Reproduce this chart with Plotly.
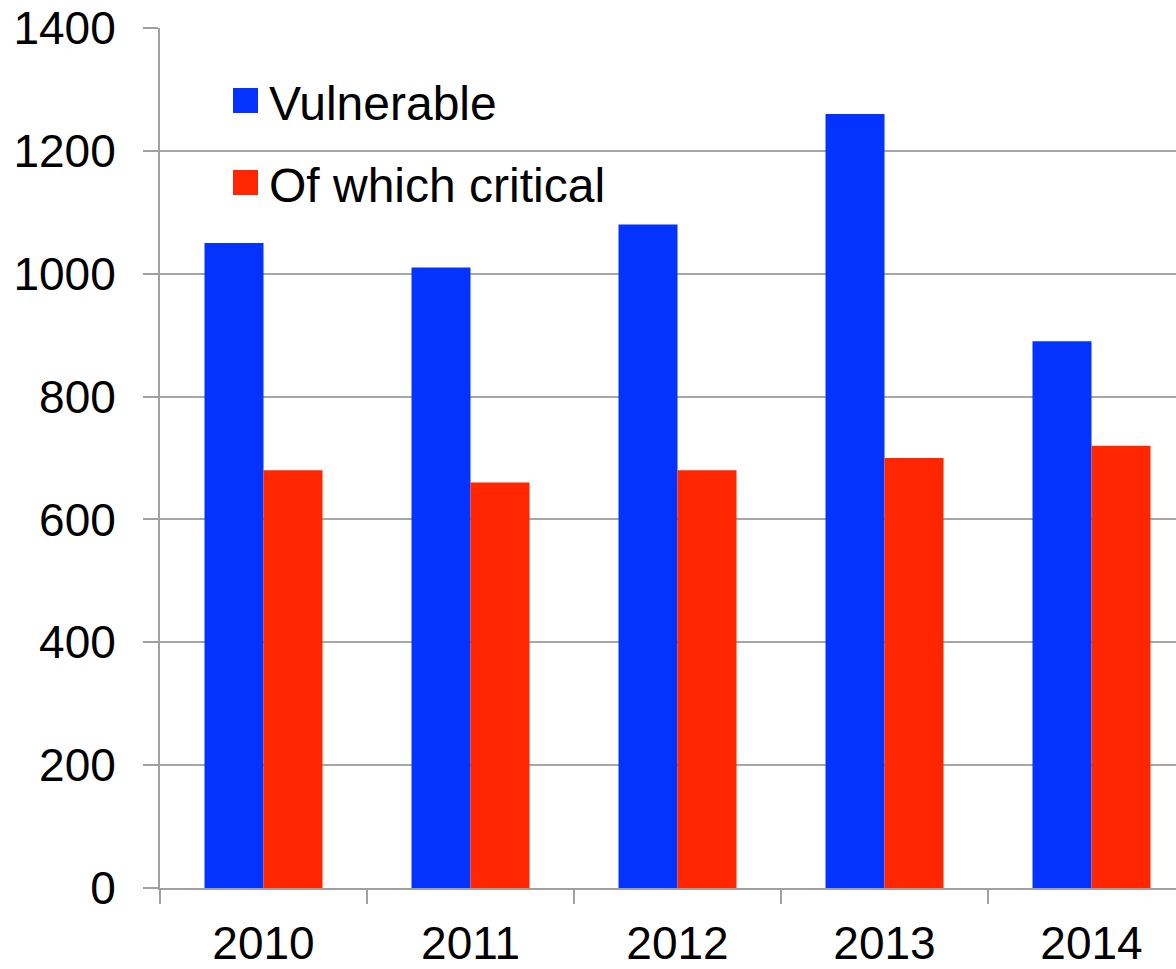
import plotly.graph_objects as go

years = ["2010", "2011", "2012", "2013", "2014"]
vulnerable = [1050, 1010, 1080, 1260, 890]
critical = [680, 660, 680, 700, 720]
series_names = ["Vulnerable", "Of which critical"]
colors = ["#0433FF", "#FF2600"]
y_ticks = [0, 200, 400, 600, 800, 1000, 1200, 1400]

W, H = 1176, 969
L, R, T, B = 160, 0, 28, 81
pw, ph = W - L - R, H - T - B

fig = go.Figure()
fig.add_trace(go.Bar(x=years, y=vulnerable, name=series_names[0], marker=dict(color=colors[0], line=dict(width=0))))
fig.add_trace(go.Bar(x=years, y=critical, name=series_names[1], marker=dict(color=colors[1], line=dict(width=0))))

cat_w = 207.0
x_end = (pw) / cat_w - 0.5

def px_x(x):
    return (x - L) / pw

def px_y(y):
    return (H - B - y) / ph

shapes = []
annotations = []
legend_rows = [(88, 113, 104), (170, 195, 186)]
for i, (y0, y1, yc) in enumerate(legend_rows):
    shapes.append(dict(type="rect", xref="paper", yref="paper",
                       x0=px_x(233), x1=px_x(258), y0=px_y(y1), y1=px_y(y0),
                       fillcolor=colors[i], line=dict(width=0)))
    annotations.append(dict(text=series_names[i], xref="paper", yref="paper",
                            x=px_x(267), y=px_y(yc), xanchor="left", yanchor="middle",
                            showarrow=False, font=dict(size=48, color="black", family="Liberation Sans, Arial")))

fig.update_layout(
    width=W, height=H,
    margin=dict(l=L, r=R, t=T, b=B, pad=0, autoexpand=False),
    paper_bgcolor="white", plot_bgcolor="white",
    barmode="group", bargap=0.43, bargroupgap=0,
    showlegend=False,
    font=dict(family="Liberation Sans, Arial", size=46, color="black"),
    shapes=shapes, annotations=annotations,
    xaxis=dict(type="category", range=[-0.5, x_end], showgrid=False, automargin=False,
               showline=True, linecolor="#a0a0a0", linewidth=2,
               ticks="outside", tickson="boundaries", ticklen=14, tickwidth=2, tickcolor="#a0a0a0",
               tickfont=dict(size=46), ticklabelstandoff=14),
    yaxis=dict(range=[0, 1400], tickvals=y_ticks, showgrid=True, gridcolor="#a6a6a6", gridwidth=2,
               automargin=False,
               showline=True, linecolor="#a0a0a0", linewidth=2, zeroline=False,
               ticks="outside", ticklen=15, tickwidth=2, tickcolor="#a0a0a0",
               tickfont=dict(size=46), ticklabelstandoff=18),
)

fig.write_html("out.html")
